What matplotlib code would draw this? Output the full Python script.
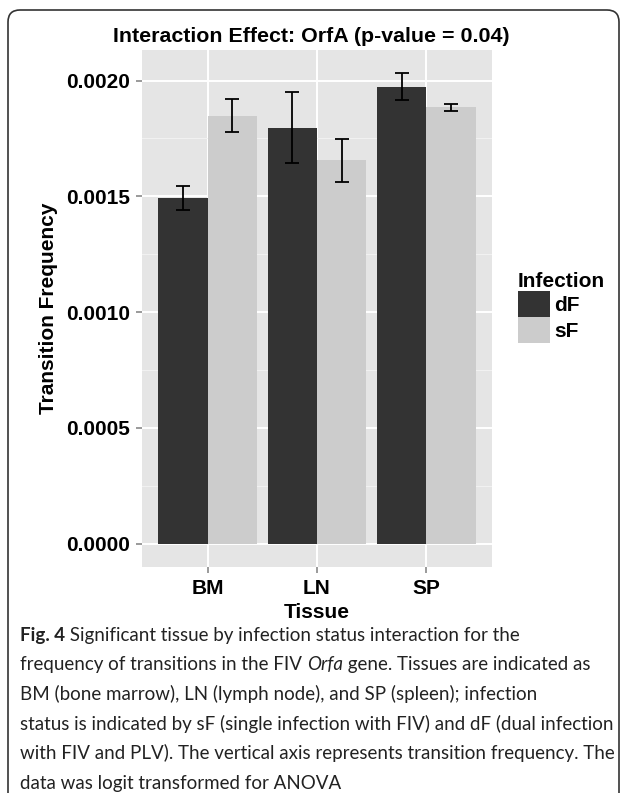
import numpy as np
import matplotlib
matplotlib.use('Agg')
from matplotlib import pyplot as plt
from matplotlib.patches import FancyBboxPatch, Patch

# values
tissues = ['BM', 'LN', 'SP']
groups = ['dF', 'sF']
dF_mean = [0.001491, 0.001796, 0.001971]
dF_low = [0.001439, 0.001646, 0.001914]
dF_high = [0.001545, 0.001949, 0.002031]
sF_mean = [0.001848, 0.001656, 0.001884]
sF_low = [0.001779, 0.001563, 0.001870]
sF_high = [0.001919, 0.001749, 0.001897]
yticks = [0.0, 0.0005, 0.0010, 0.0015, 0.0020]
yticklabels = ['0.0000', '0.0005', '0.0010', '0.0015', '0.0020']

plt.rcParams['font.family'] = ['Liberation Sans', 'DejaVu Sans']

W, H = 627, 793
fig = plt.figure(figsize=(W / 100, H / 100), dpi=100)
ax = fig.add_axes([142 / W, 1 - 567 / H, 350 / W, 517 / H])

x = np.arange(1, len(tissues) + 1)
w = 0.45
dark, light = '#333333', '#CCCCCC'
ax.bar(x - w / 2, dF_mean, w, color=dark, zorder=3)
ax.bar(x + w / 2, sF_mean, w, color=light, zorder=3)
dF_err = [np.array(dF_mean) - np.array(dF_low), np.array(dF_high) - np.array(dF_mean)]
sF_err = [np.array(sF_mean) - np.array(sF_low), np.array(sF_high) - np.array(sF_mean)]
for xs, m, e in [(x - w / 2, dF_mean, dF_err), (x + w / 2, sF_mean, sF_err)]:
    ax.errorbar(xs, m, yerr=e, fmt='none', ecolor='black', elinewidth=1.3,
                capsize=4.7, capthick=1.3, zorder=4)

ax.set_xlim(0.4, 3.6)
ax.set_ylim(-0.000101, 0.002132)
ax.set_facecolor('#E5E5E5')
for s in ax.spines.values():
    s.set_visible(False)
ax.set_xticks(x)
ax.set_xticklabels(tissues, fontsize=15, fontweight='bold')
ax.set_yticks(yticks)
ax.set_yticklabels(yticklabels, fontsize=15, fontweight='bold')
ax.set_yticks([0.00025, 0.00075, 0.00125, 0.00175], minor=True)
ax.grid(which='major', color='white', lw=1.4)
ax.grid(which='minor', axis='y', color='#F2F2F2', lw=0.7)
ax.set_axisbelow(True)
ax.tick_params(which='minor', length=0)
ax.tick_params(which='major', length=4.3, width=1.1, color='#7F7F7F', pad=4,
               labelcolor='black')
ax.set_xlabel('Tissue', fontsize=15, fontweight='bold', labelpad=4)
ax.set_ylabel('Transition Frequency', fontsize=15, fontweight='bold', labelpad=6)

fig.text(311 / W, 1 - 37 / H, 'Interaction Effect: OrfA (p-value = 0.04)',
         ha='center', va='center', fontsize=15.4, fontweight='bold')

fs_px = 15 * 100 / 72
handles = [Patch(facecolor=dark, edgecolor='none'), Patch(facecolor=light, edgecolor='none')]
leg = ax.legend(handles, groups, title='Infection', loc='upper left',
                bbox_to_anchor=(518 / W, 1 - 272 / H), bbox_transform=fig.transFigure,
                frameon=False, borderpad=0, borderaxespad=0,
                handlelength=32 / fs_px, handleheight=32 / fs_px,
                labelspacing=0, handletextpad=0.2, alignment='left',
                prop={'size': 15, 'weight': 'bold'},
                title_fontproperties={'size': 15, 'weight': 'bold'})

# border box around the figure
fig.add_artist(FancyBboxPatch((0.08, -0.3), 6.11, (H - 10) / 100 + 0.3,
                              boxstyle='round,pad=0,rounding_size=0.12',
                              transform=fig.dpi_scale_trans, fill=False,
                              edgecolor='#333333', lw=1.2))

# caption
cap_lines = [
    [('Fig. 4', 'bold'), (' Significant tissue by infection status interaction for the', 'normal')],
    [('frequency of transitions in the FIV ', 'normal'), ('Orfa', 'italic'),
     (' gene. Tissues are indicated as', 'normal')],
    [('BM (bone marrow), LN (lymph node), and SP (spleen); infection', 'normal')],
    [('status is indicated by sF (single infection with FIV) and dF (dual infection', 'normal')],
    [('with FIV and PLV). The vertical axis represents transition frequency. The', 'normal')],
    [('data was logit transformed for ANOVA', 'normal')],
]
cap_font = ['Lato', 'DejaVu Sans']
renderer = fig.canvas.get_renderer()
probe = fig.text(0, 0, cap_lines[3][0][0], fontsize=10, family=cap_font)
pw = probe.get_window_extent(renderer).width
probe.remove()
cap_size = 10 * 593 / pw

for i, parts in enumerate(cap_lines):
    xp = 20
    yp = H - (635 + 29.6 * i)
    for txt, st in parts:
        kw = dict(fontsize=cap_size, family=cap_font, color='#222222', va='center')
        if st == 'bold':
            kw['fontweight'] = 'bold'
        if st == 'italic':
            kw['style'] = 'italic'
        t = fig.text(xp / W, yp / H, txt, **kw)
        xp = t.get_window_extent(renderer).x1

fig.savefig('out.png', dpi=100)
